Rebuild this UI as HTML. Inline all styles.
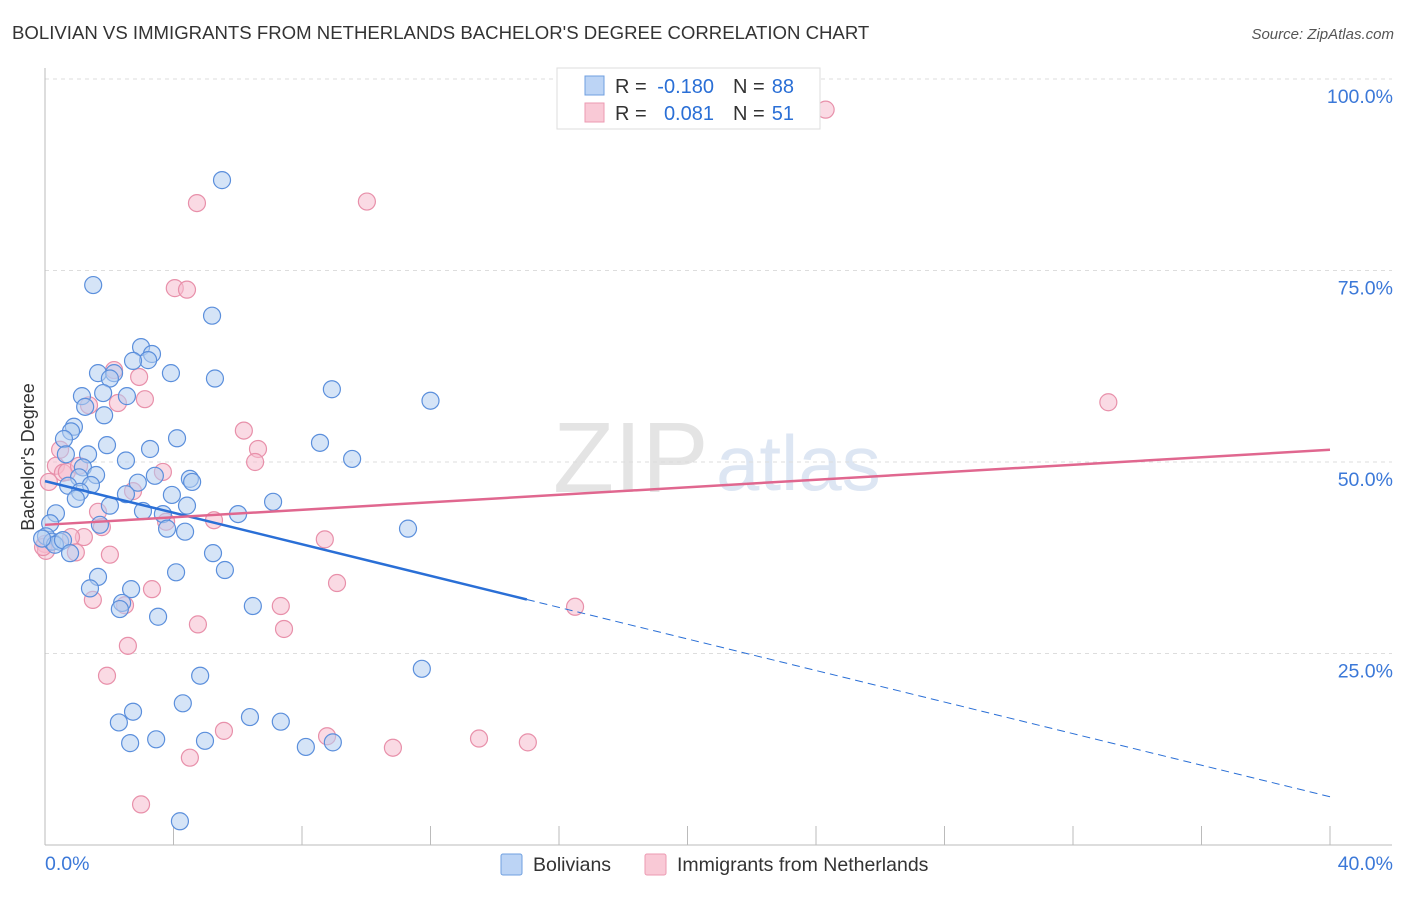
<!DOCTYPE html>
<html><head><meta charset="utf-8"><style>
body{margin:0;background:#fff;font-family:"Liberation Sans",sans-serif}
svg text{font-family:"Liberation Sans",sans-serif}
</style></head><body>
<svg id="c" width="1406" height="892">
<text x="12" y="39" font-size="18.6" fill="#333">BOLIVIAN VS IMMIGRANTS FROM NETHERLANDS BACHELOR'S DEGREE CORRELATION CHART</text>
<text x="1394" y="39" font-size="15" fill="#555" font-style="italic" text-anchor="end">Source: ZipAtlas.com</text>
<text x="553" y="492" font-size="100" fill="#e4e4e4" font-family="Liberation Serif">ZIP</text>
<text x="716" y="490" font-size="78" fill="#dde6f3">atlas</text>
<text transform="translate(34,457) rotate(-90)" font-size="18" fill="#333" text-anchor="middle">Bachelor's Degree</text>
<g id="grid"></g><g id="marks"></g>
<g>
<rect x="557" y="68" width="263" height="61" fill="#fff" stroke="#ddd"/>
<rect x="585" y="76" width="19" height="19" fill="#bcd4f5" stroke="#6f9fe0"/>
<rect x="585" y="103" width="19" height="19" fill="#f9c9d6" stroke="#ec9ab2"/>
<text x="615" y="93" font-size="20" fill="#333">R =</text>
<text x="714" y="93" font-size="20" fill="#2a6fd6" text-anchor="end">-0.180</text>
<text x="733" y="93" font-size="20" fill="#333">N =</text>
<text x="794" y="93" font-size="20" fill="#2a6fd6" text-anchor="end">88</text>
<text x="615" y="120" font-size="20" fill="#333">R =</text>
<text x="714" y="120" font-size="20" fill="#2a6fd6" text-anchor="end">0.081</text>
<text x="733" y="120" font-size="20" fill="#333">N =</text>
<text x="794" y="120" font-size="20" fill="#2a6fd6" text-anchor="end">51</text>
</g>
<g>
<rect x="501" y="854" width="21" height="21" fill="#bcd4f5" stroke="#6f9fe0" rx="2"/>
<text x="533" y="871" font-size="19.5" fill="#333">Bolivians</text>
<rect x="645" y="854" width="21" height="21" fill="#f9c9d6" stroke="#ec9ab2" rx="2"/>
<text x="677" y="871" font-size="19.5" fill="#333">Immigrants from Netherlands</text>
</g>
</svg>
<script>
const yTicks=[100,75,50,25];
const yTickLabels=["100.0%","75.0%","50.0%","25.0%"];
const xTickLabels=["0.0%","40.0%"];
const blueX=[5.51,1.5,5.2,2.99,3.33,3.21,2.74,1.65,2.15,2.02,3.92,5.29,8.93,1.15,2.55,1.81,12.0,1.25,1.84,0.90,0.81,0.59,4.11,1.93,3.27,8.56,1.34,0.65,2.52,9.56,1.18,3.42,1.59,4.51,4.58,1.06,0.72,1.43,2.89,2.52,1.09,3.95,0.96,2.02,4.42,3.05,3.67,6.01,7.10,0.34,0.16,3.80,4.36,1.71,11.3,0.03,0.22,0.47,0.31,0.56,-0.09,0.78,5.23,5.60,4.08,1.65,1.40,2.68,2.40,2.33,6.47,3.52,11.73,4.83,2.74,2.30,4.29,6.38,7.34,2.65,3.46,4.98,8.12,8.96,4.20];
const blueY=[86.8,73.1,69.1,65.0,64.1,63.3,63.2,61.6,61.6,60.9,61.6,60.9,59.5,58.6,58.6,59.0,58.0,57.2,56.1,54.6,54.0,53.0,53.1,52.2,51.7,52.5,51.0,51.0,50.2,50.4,49.3,48.2,48.3,47.8,47.4,48.0,46.9,47.0,47.3,45.8,46.1,45.7,45.2,44.3,44.3,43.6,43.2,43.2,44.8,43.3,42.0,41.3,40.9,41.8,41.3,40.3,39.6,39.6,39.2,39.8,40.0,38.1,38.1,35.9,35.6,35.0,33.5,33.4,31.6,30.8,31.2,29.8,23.0,22.1,17.4,16.0,18.5,16.7,16.1,13.3,13.8,13.6,12.8,13.4,3.1];
const pinkX=[24.3,4.73,10.02,4.04,4.42,2.15,2.93,3.11,2.27,1.37,33.1,6.19,6.63,6.54,0.47,0.34,0.56,0.68,3.67,2.74,1.06,0.12,5.26,1.65,3.77,1.77,1.21,0.81,8.71,0.0,0.03,0.96,2.02,3.33,1.49,9.09,2.49,7.34,16.5,4.76,7.44,2.58,1.93,5.57,4.51,8.78,10.83,13.51,15.03,2.99,-0.06];
const pinkY=[96.0,83.8,84.0,72.7,72.5,62.0,61.1,58.2,57.7,57.4,57.8,54.1,51.7,50.0,51.6,49.5,48.6,48.7,48.7,46.2,49.5,47.4,42.4,43.5,42.2,41.5,40.2,40.2,39.9,39.3,38.4,38.2,37.9,33.4,32.0,34.2,31.3,31.2,31.1,28.8,28.2,26.0,22.1,14.9,11.4,14.2,12.7,13.9,13.4,5.3,38.9];
const trendBlue=[47.5,6.3], trendPink=[41.8,51.6];
const X0=45,X1=1330,Y0=845,PY=7.66;
const sx=v=>X0+(v/40)*(X1-X0), sy=v=>Y0-v*PY;
const NS="http://www.w3.org/2000/svg";
const g=document.getElementById('grid'),m=document.getElementById('marks');
function el(p,t,a){const e=document.createElementNS(NS,t);for(const k in a)e.setAttribute(k,a[k]);p.appendChild(e);return e;}
yTicks.forEach((t,i)=>{
 const l=el(g,'line',{x1:X0,x2:1392,y1:sy(t),y2:sy(t),stroke:'#ddd','stroke-dasharray':'4,4'});
 
 
 const tx=el(g,'text',{x:1393,y:sy(t)+24,'font-size':19.5,fill:'#3b78d8','text-anchor':'end'});
 tx.textContent=yTickLabels[i];
 
 
});
let a=el(g,'line',{x1:X0,x2:X0,y1:68,y2:Y0,stroke:'#bbb'});


a=el(g,'line',{x1:X0,x2:1392,y1:Y0,y2:Y0,stroke:'#bbb'});


for(let v=0;v<=40;v+=4){const t=el(g,'line',{x1:sx(v),x2:sx(v),y1:826,y2:Y0,stroke:'#bbb'});
 
 }
[[0,45,'start'],[40,1393,'end']].forEach((d,i)=>{const t=el(g,'text',{x:d[1],y:870,'font-size':19.5,fill:'#3b78d8','text-anchor':d[2]});t.textContent=xTickLabels[i];
 
 });
function pts(xs,ys,fill,stroke,name){xs.forEach((x,i)=>{const c=el(m,'circle',{cx:sx(x),cy:sy(ys[i]),r:8.5,fill:fill,'fill-opacity':0.55,stroke:stroke,'stroke-width':1.2});
 
 });}
pts(pinkX,pinkY,'#f6bccd','#e890aa','point-netherlands');
pts(blueX,blueY,'#b3cdf0','#5b8fdc','point-bolivians');
const fb=x=>trendBlue[0]+(trendBlue[1]-trendBlue[0])*x/40;
let t=el(m,'line',{x1:sx(0),y1:sy(fb(0)),x2:sx(15),y2:sy(fb(15)),stroke:'#2a6fd6','stroke-width':2.5});


t=el(m,'line',{x1:sx(15),y1:sy(fb(15)),x2:sx(40),y2:sy(fb(40)),stroke:'#2a6fd6','stroke-width':1,'stroke-dasharray':'8,5'});


t=el(m,'line',{x1:sx(0),y1:sy(trendPink[0]),x2:sx(40),y2:sy(trendPink[1]),stroke:'#e0678f','stroke-width':2.5});


</script>
</body></html>
